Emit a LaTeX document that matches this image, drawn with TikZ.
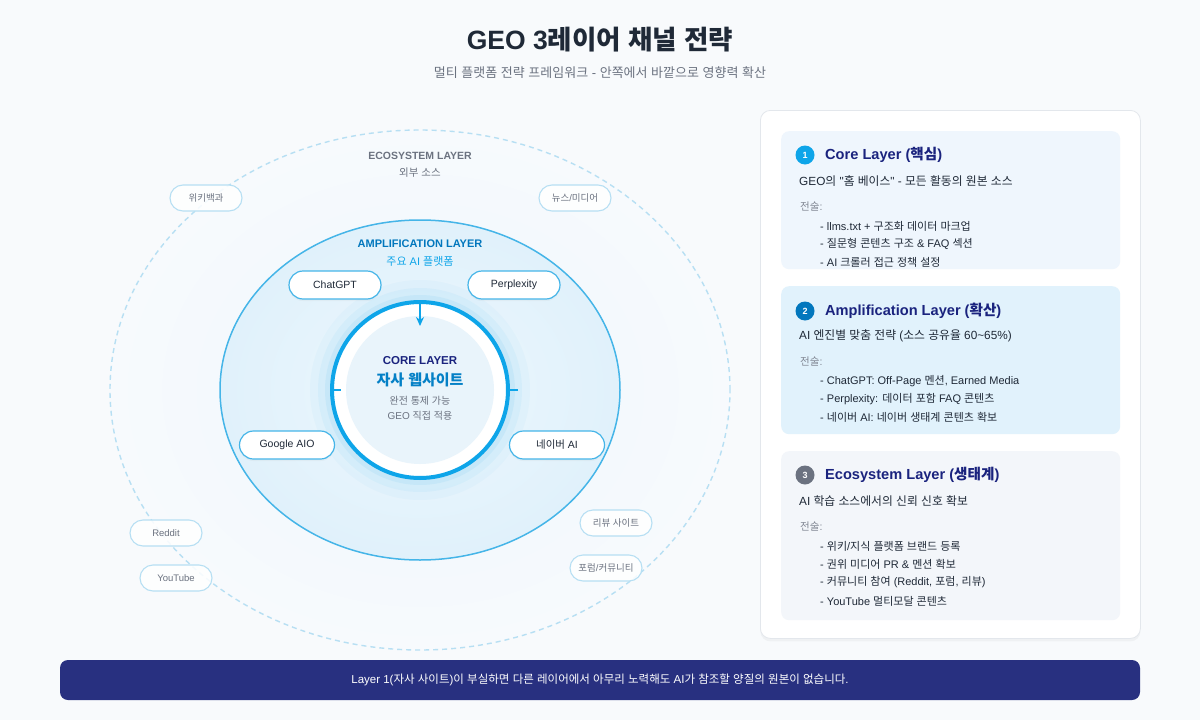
\documentclass[tikz,border=0pt]{standalone}
\usepackage{fontspec}
\usetikzlibrary{arrows.meta,shadows}
\setmainfont{Liberation Sans}
\newfontfamily\krfont{Noto Sans CJK KR}
\newfontfamily\latfont{Liberation Sans}
% hangul syllables switch to the korean family
\XeTeXinterchartokenstate=1
\newXeTeXintercharclass\hangulclass
\count255="AC00
\loop\XeTeXcharclass\count255=\hangulclass \advance\count255 by 1 \ifnum\count255<"D7A4 \repeat
\XeTeXinterchartoks 0 \hangulclass = {\krfont}
\XeTeXinterchartoks 4095 \hangulclass = {\krfont}
\XeTeXinterchartoks \hangulclass 0 = {\latfont}
\XeTeXinterchartoks \hangulclass 4095 = {\latfont}
\definecolor{pagebg}{HTML}{F8FAFC}
\definecolor{ecoin}{HTML}{EEF7FC}
\definecolor{ecoout}{HTML}{F7FAFD}
\definecolor{ecoline}{HTML}{B7DFF3}
\definecolor{ampin}{HTML}{EDF7FD}
\definecolor{ampout}{HTML}{E0F1FB}
\definecolor{ampline}{HTML}{45B5E8}
\definecolor{ring}{HTML}{0EA5E9}
\definecolor{coreinner}{HTML}{E9F4FB}
\definecolor{navy}{HTML}{1A237E}
\definecolor{ampblue}{HTML}{0277BD}
\definecolor{skytext}{HTML}{0EA5E9}
\definecolor{ink}{HTML}{1F2937}
\definecolor{gray5}{HTML}{6B7280}
\definecolor{panelline}{HTML}{E3E7EC}
\definecolor{cardA}{HTML}{EFF6FD}
\definecolor{cardB}{HTML}{E1F2FC}
\definecolor{cardC}{HTML}{F3F6FA}
\definecolor{badgeA}{HTML}{0EA5E9}
\definecolor{badgeB}{HTML}{0277BD}
\definecolor{badgeC}{HTML}{6B7280}
\definecolor{banner}{HTML}{283080}
\begin{document}
\begin{tikzpicture}[x=1pt,y=-1pt,
    ecopill/.style={draw=ecoline, line width=1.1pt, fill=white, fill opacity=.85, text opacity=1,
      rounded corners=13pt, minimum width=72pt, minimum height=26pt, inner sep=0pt,
      text=gray5, font=\fontsize{9.5}{11}\selectfont},
    amppill/.style={draw=ampline, line width=1.2pt, fill=white, rounded corners=14pt,
      minimum width=92pt, minimum height=28pt, inner sep=0pt, text=ink,
      font=\fontsize{10.5}{12}\selectfont, drop shadow={opacity=.06, shadow xshift=0pt, shadow yshift=-2pt}},
    card/.style={rounded corners=8pt, minimum width=339pt, anchor=north west, inner sep=0pt},
    badge/.style={circle, minimum size=19pt, inner sep=0pt, text=white, font=\bfseries\fontsize{9}{10}\selectfont},
    ctitle/.style={anchor=west, inner sep=0pt, text=navy, font=\bfseries\fontsize{14.6}{17}\selectfont},
    cdesc/.style={anchor=west, inner sep=0pt, text=ink, font=\fontsize{11.8}{14}\selectfont},
    clabel/.style={anchor=west, inner sep=0pt, text=gray5!85, font=\fontsize{10.5}{12}\selectfont},
    citem/.style={anchor=west, inner sep=0pt, text=ink, font=\fontsize{11}{13}\selectfont}]
\useasboundingbox (0,0) rectangle (1200,720);
\fill[pagebg] (0,0) rectangle (1200,720);
% title
\node[font=\bfseries\fontsize{26.5}{30}\selectfont, text=ink] (title) at (600,40) {GEO 3레이어 채널 전략};
\node[font=\fontsize{13}{15}\selectfont, text=gray5] (subtitle) at (600,73) {멀티 플랫폼 전략 프레임워크 - 안쪽에서 바깥으로 영향력 확산};
% ecosystem layer
\shade[inner color=ecoin, outer color=ecoout] (420,390) ellipse [x radius=310pt, y radius=260pt];
\draw[ecoline, line width=1.4pt, dash pattern=on 5pt off 4pt] (420,390) ellipse [x radius=310pt, y radius=260pt];
\node[font=\bfseries\fontsize{10.5}{12}\selectfont, text=gray5] (ecott) at (420,156) {ECOSYSTEM LAYER};
\node[font=\fontsize{10.5}{12}\selectfont, text=gray5] (ecosub) at (420,173) {외부 소스};
% amplification layer
\shade[inner color=ampin, outer color=ampout] (420,390) ellipse [x radius=200pt, y radius=170pt];
\draw[ampline, line width=1.5pt] (420,390) ellipse [x radius=200pt, y radius=170pt];
\node[font=\bfseries\fontsize{11}{13}\selectfont, text=ampblue] (amptt) at (420,244) {AMPLIFICATION LAYER};
\node[font=\fontsize{11}{13}\selectfont, text=skytext] (ampsub) at (420,261) {주요 AI 플랫폼};
% core layer
\foreach \r/\o in {110/.03,102/.05,95/.07}
  \fill[ring, opacity=\o] (420,390) circle [radius=\r pt];
\node[circle, draw=ring, line width=4pt, fill=white, minimum size=176pt, inner sep=0pt] (core) at (420,390) {};
\fill[coreinner] (core.center) circle [radius=74pt];
\coordinate (arrtip) at (420,326);
\draw[ring, line width=1.6pt, -{Stealth[length=9pt,width=8pt]}] (core.north) -- (arrtip);
\coordinate (tickL) at (341,390);
\coordinate (tickR) at (518,390);
\draw[ring, line width=1.4pt] (core.west) -- (tickL);
\draw[ring, line width=1.4pt] (core.east) -- (tickR);
\node[font=\bfseries\fontsize{11.5}{13}\selectfont, text=navy] (corett) at (420,361) {CORE LAYER};
\node[font=\bfseries\fontsize{15}{17}\selectfont, text=ampblue!80!ring] (coresub) at (420,380) {자사 웹사이트};
\node[font=\fontsize{10}{12}\selectfont, text=gray5] (corel1) at (420,401) {완전 통제 가능};
\node[font=\fontsize{10}{12}\selectfont, text=gray5] (corel2) at (420,416) {GEO 직접 적용};
% platform pills
\node[amppill] (chatgpt) at (335,285) {ChatGPT};
\node[amppill] (perplexity) at (514,285) {Perplexity};
\node[amppill, minimum width=95pt] (googleaio) at (287,445) {Google AIO};
\node[amppill, minimum width=95pt] (naverai) at (557,445) {네이버 AI};
% source pills
\node[ecopill] (wiki) at (206,198) {위키백과};
\node[ecopill] (news) at (575,198) {뉴스/미디어};
\node[ecopill] (reddit) at (166,533) {Reddit};
\node[ecopill] (youtube) at (176,578) {YouTube};
\node[ecopill] (review) at (616,523) {리뷰 사이트};
\node[ecopill] (forum) at (606,568) {포럼/커뮤니티};
% right panel
\node[draw=panelline, line width=.8pt, fill=white, rounded corners=10pt, minimum width=380pt,
  minimum height=528pt, anchor=north west, inner sep=0pt,
  drop shadow={opacity=.07, shadow xshift=0pt, shadow yshift=-3pt}] (panel) at (760,110) {};
\node[card, fill=cardA, minimum height=138pt] (cardcore) at (781,131) {};
\node[card, fill=cardB, minimum height=148pt] (cardamp) at (781,286) {};
\node[card, fill=cardC, minimum height=169pt] (cardeco) at (781,451) {};
% card 1
\node[badge, fill=badgeA] (badge1) at (805,155) {1};
\node[ctitle] (title1) at (825,155) {Core Layer (핵심)};
\node[cdesc] (desc1) at (799,181) {GEO의 "홈 베이스" - 모든 활동의 원본 소스};
\node[clabel] (tac1) at (800,207) {전술:};
\node[citem] (item11) at (820,226) {- llms.txt + 구조화 데이터 마크업};
\node[citem] (item12) at (820,244) {- 질문형 콘텐츠 구조 \& FAQ 섹션};
\node[citem] (item13) at (820,262) {- AI 크롤러 접근 정책 설정};
% card 2
\node[badge, fill=badgeB] (badge2) at (805,311) {2};
\node[ctitle] (title2) at (825,311) {Amplification Layer (확산)};
\node[cdesc] (desc2) at (799,336) {AI 엔진별 맞춤 전략 (소스 공유율 60\textasciitilde 65\%)};
\node[clabel] (tac2) at (800,362) {전술:};
\node[citem] (item21) at (820,381) {- ChatGPT: Off-Page 멘션, Earned Media};
\node[citem] (item22) at (820,399) {- Perplexity: 데이터 포함 FAQ 콘텐츠};
\node[citem] (item23) at (820,417) {- 네이버 AI: 네이버 생태계 콘텐츠 확보};
% card 3
\node[badge, fill=badgeC] (badge3) at (805,475) {3};
\node[ctitle] (title3) at (825,475) {Ecosystem Layer (생태계)};
\node[cdesc] (desc3) at (799,501) {AI 학습 소스에서의 신뢰 신호 확보};
\node[clabel] (tac3) at (800,527) {전술:};
\node[citem] (item31) at (820,546) {- 위키/지식 플랫폼 브랜드 등록};
\node[citem] (item32) at (820,564) {- 권위 미디어 PR \& 멘션 확보};
\node[citem] (item33) at (820,582) {- 커뮤니티 참여 (Reddit, 포럼, 리뷰)};
\node[citem] (item34) at (820,601) {- YouTube 멀티모달 콘텐츠};
% bottom note
\node[fill=banner, rounded corners=8pt, minimum width=1080pt, minimum height=40pt, inner sep=0pt,
  text=white, font=\fontsize{11.5}{13}\selectfont] (note) at (600,680)
  {Layer 1(자사 사이트)이 부실하면 다른 레이어에서 아무리 노력해도 AI가 참조할 양질의 원본이 없습니다.};
\end{tikzpicture}
\end{document}
